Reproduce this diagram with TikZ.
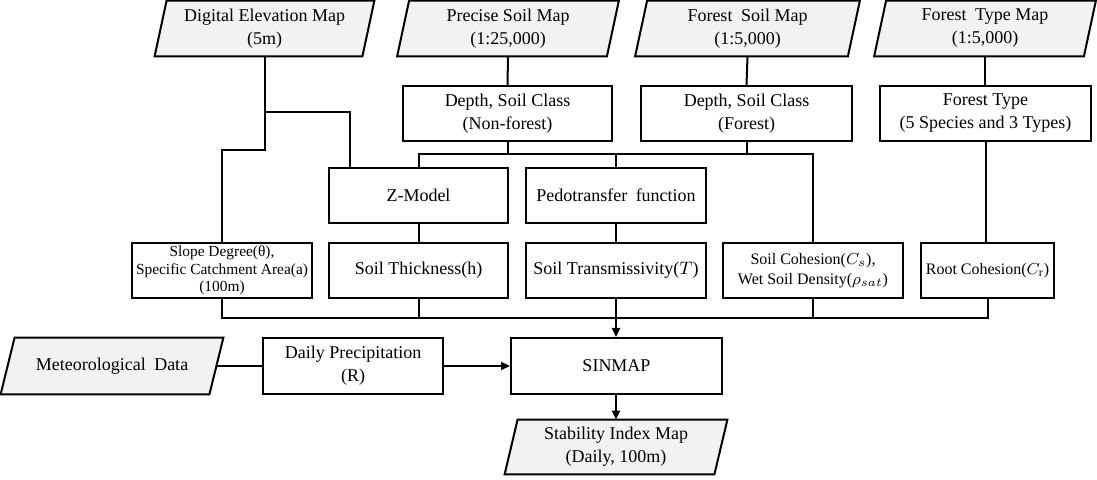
\documentclass[tikz,border=0pt]{standalone}
\usepackage{fontspec}
\setmainfont{Liberation Serif}
\usetikzlibrary{arrows.meta,calc,backgrounds}
\definecolor{paragray}{RGB}{242,242,242}
\tikzset{
  x=0.5pt, y=-0.5pt,
  box/.style={draw, line width=1pt, rectangle, align=center, inner sep=1pt,
    minimum height=27.5pt, font=\fontsize{9}{11.5}\selectfont},
  parabox/.style={rectangle, align=center, inner sep=1pt,
    minimum height=27.5pt, font=\fontsize{9}{11.5}\selectfont},
  para/.style={draw, line width=1pt, fill=paragray},
  conn/.style={line width=1pt},
  arr/.style={line width=1pt, -{Triangle[length=4.5pt,width=4pt]}},
}
\newcommand\drawpara[2]{\draw[para] ($(#1.north west)+(#2,0)$) -- ($(#1.north east)+(#2,0)$) -- ($(#1.south east)+(-#2,0)$) -- ($(#1.south west)+(-#2,0)$) -- cycle;}
\begin{document}
\begin{tikzpicture}
\useasboundingbox (0,0) rectangle (1097,480);
% sources
\node[parabox, minimum width=103.5pt] (dem) at (264.5,28.5) {Digital Elevation Map\\(5m)};
\node[parabox, minimum width=104.5pt] (psm) at (508,28.5) {Precise Soil Map\\(1:25,000)};
\node[parabox, minimum width=106pt] (fsm) at (747.5,28.5) {Forest\hspace{2pt} Soil Map\\(1:5,000)};
\node[parabox, minimum width=104.5pt] (ftm) at (985,28.5) {Forest\hspace{2pt} Type Map\\(1:5,000)};
% second row
\node[box, minimum width=104.5pt] (nonforest) at (507.5,113.5) {Depth, Soil Class\\(Non-forest)};
\node[box, minimum width=105.5pt] (forest) at (746.5,113.5) {Depth, Soil Class\\(Forest)};
\node[box, minimum width=105.5pt] (ftype) at (985.5,113.5) {Forest Type\\(5 Species and 3 Types)};
% models
\node[box, minimum width=89.5pt] (zmodel) at (418.5,195.5) {Z-Model};
\node[box, minimum width=90pt] (pedo) at (616,195.5) {Pedotransfer\hspace{2pt} function};
% parameters
\node[box, minimum width=90pt, inner sep=0pt, font=\fontsize{7.7}{8.8}\selectfont] (slope) at (222,270.5) {Slope Degree(θ),\\Specific Catchment Area(a)\\(100m)};
\node[box, minimum width=89.5pt] (thick) at (418.5,270.5) {Soil Thickness(h)};
\node[box, minimum width=90pt] (trans) at (616,270.5) {Soil Transmissivity($T$)};
\node[box, minimum width=90pt, font=\fontsize{8}{10}\selectfont] (coh) at (813,270.5) {Soil Cohesion($C_s$),\\Wet Soil Density($\rho_{sat}$)};
\node[box, minimum width=66.5pt, font=\fontsize{8}{10}\selectfont] (root) at (987.5,270.5) {Root Cohesion($C_\mathrm{r}$)};
% bottom
\node[parabox, minimum width=104pt, minimum height=28pt] (met) at (112,366) {Meteorological\hspace{2pt} Data};
\node[box, minimum width=90pt, minimum height=28pt] (daily) at (353,366) {Daily Precipitation\\(R)};
\node[box, minimum width=105.5pt, minimum height=28pt] (sinmap) at (616.5,366) {SINMAP};
\node[parabox, minimum width=104.5pt, minimum height=27pt] (sim) at (616,447) {Stability Index Map\\(Daily, 100m)};
\begin{scope}[on background layer]
  \drawpara{dem}{6}
  \drawpara{psm}{6}
  \drawpara{fsm}{6}
  \drawpara{ftm}{6}
  \drawpara{met}{7}
  \drawpara{sim}{6.5}
\end{scope}
% junction coordinates
\coordinate (j1) at (264.5,150);
\coordinate (j2) at (264.5,112);
\coordinate (zin) at ($(zmodel.north west)+(22,0)$);
\coordinate (bus1) at (0,154);
\coordinate (bus2) at (0,318);
% connectors
\draw[conn] (dem.south) -- (j1) -| (slope.north);
\draw[conn] (j2) -| (zin);
\draw[conn] (psm.south) -- (nonforest.north);
\draw[conn] (fsm.south) -- (forest.north);
\draw[conn] (ftm.south) -- (ftm.south |- ftype.north);
\draw[conn] (ftype.south) -- (ftype.south |- root.north);
\draw[conn] (nonforest.south) -- (nonforest.south |- bus1);
\draw[conn] (forest.south) -- (forest.south |- bus1);
\draw[conn] (zmodel.north) -- (zmodel.north |- bus1) -- (coh.north |- bus1) -- (coh.north);
\draw[conn] (pedo.north) -- (pedo.north |- bus1);
\draw[conn] (zmodel.south) -- (thick.north);
\draw[conn] (pedo.south) -- (trans.north);
\draw[conn] (slope.south) -- (slope.south |- bus2) -- (root.south |- bus2) -- (root.south);
\draw[conn] (thick.south) -- (thick.south |- bus2);
\draw[conn] (trans.south) -- (trans.south |- bus2);
\draw[conn] (coh.south) -- (coh.south |- bus2);
\draw[arr] (trans.south |- bus2) -- (sinmap.north -| trans.south);
\draw[conn] (met.east) -- (daily.west);
\draw[arr] (daily.east) -- (sinmap.west);
\draw[arr] (sinmap.south -| sim.north) -- (sim.north);
\end{tikzpicture}
\end{document}
